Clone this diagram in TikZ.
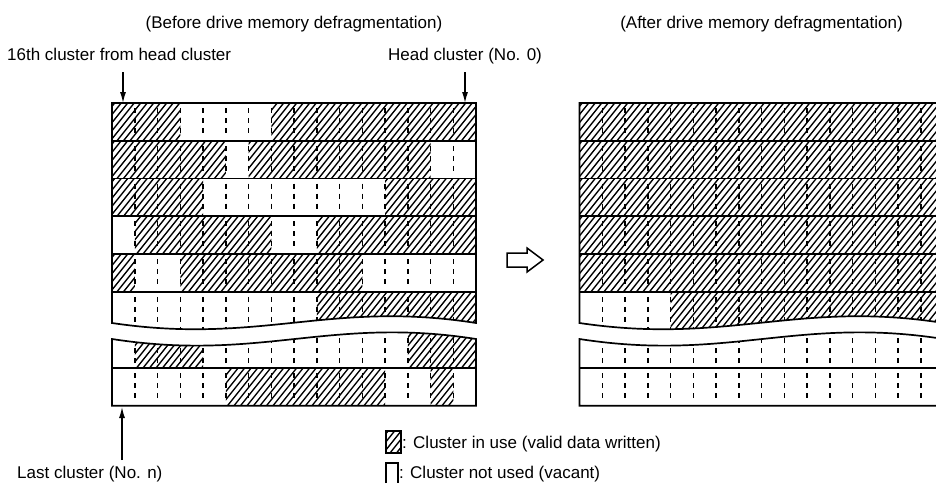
\documentclass[tikz,border=0pt]{standalone}
\usepackage{fontspec}
\setmainfont{Liberation Sans}
\usetikzlibrary{arrows.meta}

\def\colw{22.75}
% hatched area: x0, x1, y0 (top), y1 (bottom)
\newcommand\hatchbox[4]{%
  \pgfmathsetmacro\hxa{6.5*floor((#1-50)/6.5)}%
  \pgfmathsetmacro\hxb{\hxa+6.5}%
  \pgfmathsetmacro\hxc{#2}%
  \begin{scope}
    \clip ({#1},#3) rectangle ({#2},#4);
    \foreach \k in {\hxa,\hxb,...,\hxc}
      \draw[hatch] (\k,#4) -- ++(48,-60);
  \end{scope}%
}
% dashed column lines, row lines and outline of one block
\newcommand\blockframe{%
  \foreach \t in {103,140.75,178.5,216.25,254}
    \foreach \c in {1,...,15}
      \draw[dashcol] ({112+\c*\colw},{\t+5}) -- ++(0,27.75);
  \begin{scope}
    \clip[upperpart];
    \foreach \c in {1,...,15}
      \draw[dashcol] ({112+\c*\colw},296.75) -- ++(0,40);
  \end{scope}
  \begin{scope}
    \clip[lowerpart];
    \foreach \c in {1,...,15} {
      \draw[dashcol] ({112+\c*\colw},363) -- ++(0,-35);
      \draw[dashcol] ({112+\c*\colw},373) -- ++(0,27.7);
    }
  \end{scope}
  \foreach \t in {140.75,178.5,216.25,254,291.75,368}
    \draw[rowline] (112,\t) -- (476,\t);
  \draw[frame, upperpart];
  \draw[frame, lowerpart];
}

\begin{document}
\begin{tikzpicture}[
  x=1pt, y=-1pt,
  frame/.style={line width=1.7pt},
  rowline/.style={line width=1.6pt},
  dashcol/.style={line width=1.5pt, dash pattern=on 5pt off 5pt},
  hatch/.style={line width=1.35pt},
  arr/.style={line width=1.3pt, -{Latex[length=11pt,width=6pt]}},
  lbl/.style={font=\fontsize{17}{20}\selectfont, inner sep=0pt},
  upperpart/.style={insert path={(112,103) -- (476,103) -- (476,323)
      .. controls (330,300) and (260,345) .. (112,323) -- cycle}},
  lowerpart/.style={insert path={(112,339) .. controls (260,362) and (330,316)
      .. (476,339) -- (476,405.7) -- (112,405.7) -- cycle}},
]
\useasboundingbox (0,0) rectangle (936,495);
\clip (0,0) rectangle (936,495);

% titles and labels
\node[lbl, anchor=base] (tbefore) at (294,29) {(Before drive memory defragmentation)};
\node[lbl, anchor=base] (tafter) at (761.5,29) {(After drive memory defragmentation)};
\node[lbl, anchor=base west] (t16th) at (7,60) {16th cluster from head cluster};
\node[lbl, anchor=base west] (thead) at (388,60) {Head cluster (No. 0)};
\node[lbl, anchor=base west] (tlast) at (17,478) {Last cluster (No. n)};

% block before defragmentation
\foreach \ca/\cb/\ya/\yb in {0/3/103/140.75, 7/16/103/140.75,
    0/5/140.75/178.5, 6/14/140.75/178.5,
    0/4/178.5/216.25, 12/16/178.5/216.25,
    1/7/216.25/254, 9/16/216.25/254,
    0/1/254/291.75, 3/11/254/291.75,
    5/12/368/405.7, 14/15/368/405.7}
  \hatchbox{112+\ca*\colw}{112+\cb*\colw}{\ya}{\yb};
\begin{scope}
  \clip[upperpart];
  \hatchbox{112+9*\colw}{476}{291.75}{345}
\end{scope}
\begin{scope}
  \clip[lowerpart];
  \hatchbox{112+1*\colw}{112+4*\colw}{320}{368}
  \hatchbox{112+13*\colw}{476}{320}{368}
\end{scope}
\blockframe

% block after defragmentation
\begin{scope}[xshift=467.5pt]
  \foreach \ya/\yb in {103/140.75, 140.75/178.5, 178.5/216.25,
      216.25/254, 254/291.75}
    \hatchbox{112}{476}{\ya}{\yb};
  \begin{scope}
    \clip[upperpart];
    \hatchbox{112+4*\colw}{476}{291.75}{345}
  \end{scope}
  \blockframe
\end{scope}

% pointers
\coordinate (c16a) at (123,72);
\coordinate (c16b) at (123,103);
\coordinate (c0a) at (465,72);
\coordinate (c0b) at (465,103);
\coordinate (cna) at (122,460);
\coordinate (cnb) at (122,407);
\draw[arr] (c16a) -- (c16b);
\draw[arr] (c0a) -- (c0b);
\draw[arr] (cna) -- (cnb);

% hollow arrow between blocks
\draw[line width=1.5pt] (507,253) -- (527,253) -- (527,248) -- (543,260)
  -- (527,272) -- (527,267) -- (507,267) -- cycle;

% legend
\hatchbox{386}{401}{431}{453}
\draw[frame] (386,431) rectangle (401,453);
\draw[frame] (386,483) -- (386,463) -- (398,463) -- (398,483);
\node[lbl, anchor=base west] (lgin) at (402,448) {: Cluster in use (valid data written)};
\node[lbl, anchor=base west] (lgout) at (399,478) {: Cluster not used (vacant)};
\end{tikzpicture}
\end{document}
